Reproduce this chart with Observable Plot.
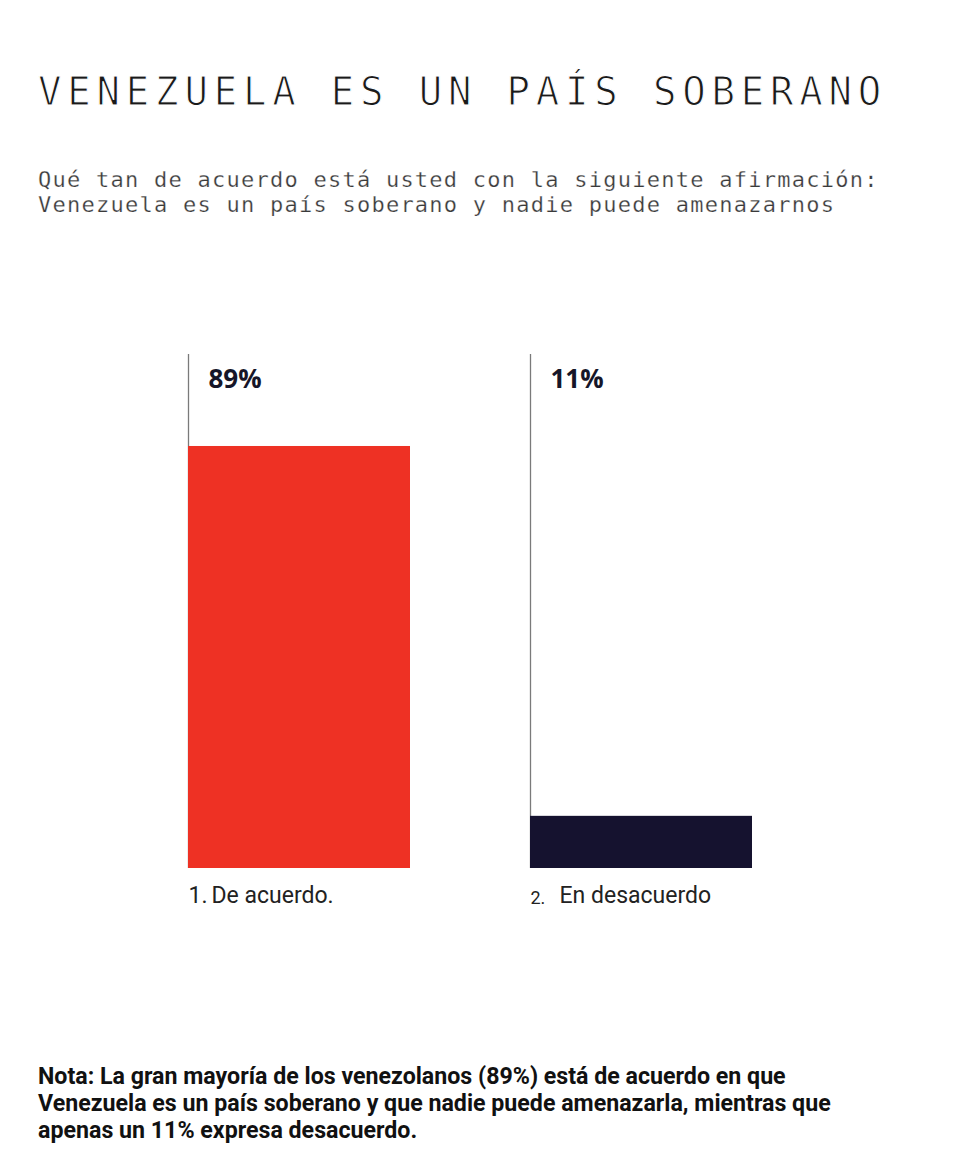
<!DOCTYPE html>
<html>
<head>
<meta charset="utf-8">
<script src="https://cdn.jsdelivr.net/npm/d3@7"></script>
<script src="https://cdn.jsdelivr.net/npm/@observablehq/plot@0.6"></script>
<style>
  body { margin: 0; background: #fff; width: 960px; height: 1160px; position: relative; overflow: hidden; }
  #title { position: absolute; left: 38px; top: 70px; font-family: "DejaVu Sans Mono", monospace; font-size: 39px; line-height: 44px; letter-spacing: 5.8px; color: #1a1a1a; white-space: nowrap; -webkit-text-stroke: 1.1px #fff; }
  #subtitle { position: absolute; left: 38px; top: 167px; font-family: "DejaVu Sans Mono", monospace; font-size: 22px; line-height: 25px; letter-spacing: 1.25px; color: #3a3a3a; white-space: nowrap; -webkit-text-stroke: 0.25px #fff; }
  #chart { position: absolute; left: 0; top: 300px; }
  #note { position: absolute; left: 38px; top: 1063px; font-family: Roboto, sans-serif; font-weight: 700; font-size: 23.2px; line-height: 27px; color: #111; width: 910px; white-space: nowrap; }
</style>
</head>
<body>
<div id="title"></div>
<div id="subtitle"></div>
<div id="chart"></div>
<div id="note"></div>
<script>
const titleText = "VENEZUELA ES UN PAÍS SOBERANO";
const subtitleLines = [
  "Qué tan de acuerdo está usted con la siguiente afirmación:",
  "Venezuela es un país soberano y nadie puede amenazarnos"
];
const categories = ["1. De acuerdo.", "2. En desacuerdo"];
const numbers = ["1.", "2."];
const names = ["De acuerdo.", "En desacuerdo"];
const values = [89, 11];
const valueLabels = ["89%", "11%"];
const colors = ["#ee3124", "#15122f"];
const noteLines = [
  "Nota: La gran mayoría de los venezolanos (89%) está de acuerdo en que",
  "Venezuela es un país soberano y que nadie puede amenazarla, mientras que",
  "apenas un 11% expresa desacuerdo."
];

document.getElementById("title").textContent = titleText;
document.getElementById("subtitle").innerHTML = subtitleLines.join("<br>");
document.getElementById("note").innerHTML = noteLines.join("<br>");

const data = categories.map((c, i) => ({cat: c, num: numbers[i], name: names[i], value: values[i], label: valueLabels[i], color: colors[i]}));

const half = 111; // half band width in px, used to anchor texts at band left edge

const chart = Plot.plot({
  width: 960,
  height: 628,
  marginTop: 54,
  marginBottom: 60,
  marginLeft: 188,
  marginRight: 208,
  x: {domain: categories, paddingInner: 0.351, paddingOuter: 0, axis: null},
  y: {domain: [0, 108.4], axis: null},
  style: {background: "transparent"},
  marks: [
    Plot.ruleX(data, {x: "cat", y1: 108.4, y2: 0, dx: -half, stroke: "#7a7a7a", strokeWidth: 1.3}),
    Plot.barY(data, {x: "cat", y: "value", fill: "color"}),
    Plot.text(data, {x: "cat", text: "label", frameAnchor: "top", dy: 15, dx: -half + 20, textAnchor: "start",
      fontFamily: "'Open Sans', sans-serif", fontWeight: 700, fontSize: 26, fill: "#161629"}),
    Plot.text(data.filter((d, i) => i === 0), {x: "cat", text: "num", frameAnchor: "bottom", dy: 34, dx: -half, textAnchor: "start",
      fontFamily: "Roboto, sans-serif", fontSize: 23, fill: "#222"}),
    Plot.text(data.filter((d, i) => i === 0), {x: "cat", text: "name", frameAnchor: "bottom", dy: 34, dx: -half + 23, textAnchor: "start",
      fontFamily: "Roboto, sans-serif", fontSize: 23, fill: "#222"}),
    Plot.text(data.filter((d, i) => i === 1), {x: "cat", text: "num", frameAnchor: "bottom", dy: 35, dx: -half, textAnchor: "start",
      fontFamily: "Roboto, sans-serif", fontSize: 18, fill: "#222"}),
    Plot.text(data.filter((d, i) => i === 1), {x: "cat", text: "name", frameAnchor: "bottom", dy: 34, dx: -half + 29, textAnchor: "start",
      fontFamily: "Roboto, sans-serif", fontSize: 23, fill: "#222"})
  ]
});
document.getElementById("chart").appendChild(chart);
</script>
</body>
</html>
